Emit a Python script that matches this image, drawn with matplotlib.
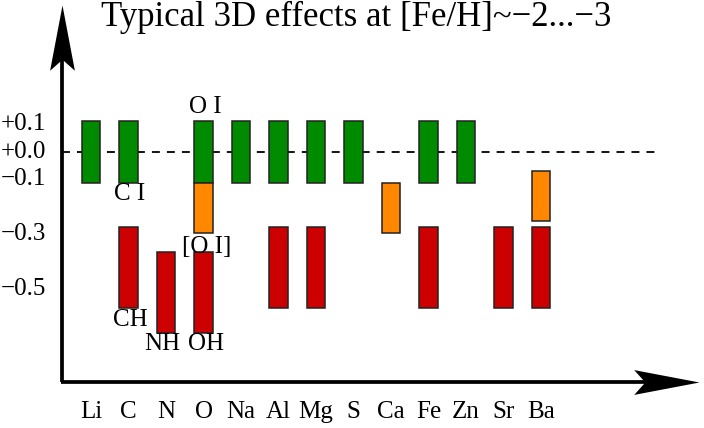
import matplotlib
matplotlib.use("Agg")
import matplotlib.pyplot as plt
from matplotlib.path import Path

plt.rcParams['font.family'] = ['Liberation Serif', 'DejaVu Serif']

# 원소 목록 (x축)
elements = ['Li', 'C', 'N', 'O', 'Na', 'Al', 'Mg', 'S', 'Ca', 'Fe', 'Zn', 'Sr', 'Ba']

# 초록: 원자선 (거의 0 근처)
green_elems = ['Li', 'C', 'O', 'Na', 'Al', 'Mg', 'S', 'Fe', 'Zn']
green_lo = [-0.115] * 9
green_hi = [0.113] * 9

# 주황: 금지선 / 이온 등
orange_elems = ['O', 'Ca', 'Ba']
orange_lo = [-0.294, -0.296, -0.25]
orange_hi = [-0.115, -0.115, -0.07]

# 빨강: 분자 및 강한 효과
red_elems = ['C', 'N', 'O', 'Al', 'Mg', 'Fe', 'Sr', 'Ba']
red_lo = [-0.569, -0.66, -0.66, -0.569, -0.569, -0.569, -0.569, -0.569]
red_hi = [-0.273, -0.365, -0.365, -0.273, -0.273, -0.273, -0.273, -0.273]

# 막대 옆 주석
notes = ['O I', 'C I', '[O I]', 'CH', 'NH', 'OH']
note_elems = ['O', 'C', 'O', 'C', 'N', 'O']
note_y = [0.163, -0.155, -0.346, -0.61, -0.70, -0.70]
note_dx = [0.04, 0.03, 0.09, 0.04, -0.11, 0.08]

ytick_vals = [0.1, 0.0, -0.1, -0.3, -0.5]
ytick_labels = ['+0.1', '+0.0', '\u22120.1', '\u22120.3', '\u22120.5']

title = 'Typical 3D effects at [Fe/H]~\u22122...\u22123'

pos = {e: i for i, e in enumerate(elements)}

fig = plt.figure(figsize=(7.04, 4.28), dpi=100)
ax = fig.add_axes([0, 0, 1, 1])
ax.set_xlim(-2.427, 16.347)
ax.set_ylim(-1.004, 0.552)
ax.axis('off')

fs = 18

# 0 기준 점선
ax.plot([-0.773, 15.04], [0, 0], color='black', lw=1.3,
        dashes=(4.4, 3.9), zorder=1)


def draw_bars(elems, lo, hi, color):
    xs = [pos[e] for e in elems]
    heights = [h - l for l, h in zip(lo, hi)]
    ax.bar(xs, heights, bottom=lo, width=0.5, color=color,
           edgecolor='#222222', linewidth=1.1, zorder=3)


draw_bars(green_elems, green_lo, green_hi, '#008a00')
draw_bars(orange_elems, orange_lo, orange_hi, '#ff8800')
draw_bars(red_elems, red_lo, red_hi, '#cc0000')

for t, e, y, dx in zip(notes, note_elems, note_y, note_dx):
    ax.text(pos[e] + dx, y, t, ha='center', va='center', fontsize=fs)

# 축 (화살표)
x0, y0 = -0.773, -0.837
ax.plot([x0, x0], [y0, 0.45], color='black', lw=2.7, zorder=4,
        solid_capstyle='butt')
ax.plot([x0 - 0.035, 15.8], [y0, y0], color='black', lw=2.7, zorder=4,
        solid_capstyle='butt')

# 오목한 화살촉 마커
up_head = Path([(0, 0), (-0.19, -1), (0, -0.83), (0.19, -1), (0, 0)],
               [Path.MOVETO, Path.LINETO, Path.LINETO, Path.LINETO, Path.CLOSEPOLY])
right_head = Path([(0, 0), (-1, 0.19), (-0.83, 0), (-1, -0.19), (0, 0)],
                  [Path.MOVETO, Path.LINETO, Path.LINETO, Path.LINETO, Path.CLOSEPOLY])
ax.plot([x0], [0.534], marker=up_head, markersize=94, color='black',
        markeredgewidth=0, zorder=5)
ax.plot([16.21], [y0], marker=right_head, markersize=94, color='black',
        markeredgewidth=0, zorder=5)

# 눈금 라벨
for v, lab in zip(ytick_vals, ytick_labels):
    ax.text(-2.40, v, lab, ha='left', va='center', fontsize=fs)
for i, e in enumerate(elements):
    ax.text(i, -0.946, e, ha='center', va='center', fontsize=fs)

ax.text(7.07, 0.49, title, ha='center', va='center', fontsize=25)

fig.savefig('out.png', dpi=100)
